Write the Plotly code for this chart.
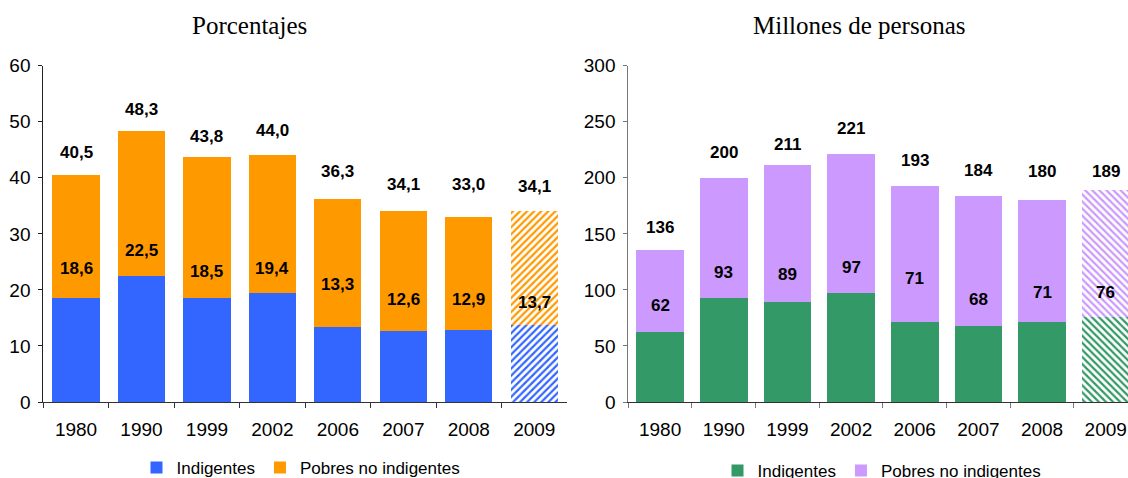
import plotly.graph_objects as go

# ---------------- data ----------------
years = ["1980", "1990", "1999", "2002", "2006", "2007", "2008", "2009"]
pct_total = [40.5, 48.3, 43.8, 44.0, 36.3, 34.1, 33.0, 34.1]
pct_indigentes = [18.6, 22.5, 18.5, 19.4, 13.3, 12.6, 12.9, 13.7]
mill_total = [136, 200, 211, 221, 193, 184, 180, 189]
mill_indigentes = [62, 93, 89, 97, 71, 68, 71, 76]
projected = [False, False, False, False, False, False, False, True]

pct_pobres = [round(t - i, 1) for t, i in zip(pct_total, pct_indigentes)]
mill_pobres = [t - i for t, i in zip(mill_total, mill_indigentes)]

# label placement (data units)
pct_top_label_y = [44.6, 52.1, 47.3, 48.4, 41.1, 38.75, 38.75, 38.4]
pct_inner_label_y = [23.75, 27.1, 23.2, 23.9, 20.9, 18.2, 18.2, 17.7]
mill_top_label_y = [155.4, 222.3, 229.5, 243.75, 215.2, 206.25, 205.4, 205.4]
mill_inner_label_y = [85.7, 115.2, 113.4, 119.6, 109.8, 91.1, 97.3, 97.3]

# ---------------- style ----------------
W, H = 1128, 478
BLUE, ORANGE = "#3366FF", "#FF9900"
GREEN, LILAC = "#339966", "#CC99FF"
SANS = "Liberation Sans, Arial, sans-serif"
SERIF = "Liberation Serif, Times New Roman, serif"


def px_x(p):
    return p / W


def px_y(p):
    return 1 - p / H


def pattern(color, shape):
    return dict(
        shape=[shape if p else "" for p in projected],
        fgcolor=color,
        bgcolor="white",
        size=5,
        solidity=0.45,
    )


fig = go.Figure()

fig.add_trace(go.Bar(
    x=years, y=pct_indigentes, name="Indigentes", xaxis="x", yaxis="y",
    marker=dict(color=BLUE, line=dict(width=0), pattern=pattern(BLUE, "/")),
    width=0.72, legend="legend", hoverinfo="x+y",
))
fig.add_trace(go.Bar(
    x=years, y=pct_pobres, name="Pobres no indigentes", xaxis="x", yaxis="y",
    marker=dict(color=ORANGE, line=dict(width=0), pattern=pattern(ORANGE, "/")),
    width=0.72, legend="legend", hoverinfo="x+y",
))
fig.add_trace(go.Bar(
    x=years, y=mill_indigentes, name="Indigentes", xaxis="x2", yaxis="y2",
    marker=dict(color=GREEN, line=dict(width=0), pattern=pattern(GREEN, "\\")),
    width=0.75, legend="legend2", hoverinfo="x+y",
))
fig.add_trace(go.Bar(
    x=years, y=mill_pobres, name="Pobres no indigentes", xaxis="x2", yaxis="y2",
    marker=dict(color=LILAC, line=dict(width=0), pattern=pattern(LILAC, "\\")),
    width=0.75, legend="legend2", hoverinfo="x+y",
))

annotations = []
lab_font = dict(family=SANS, size=17, color="black")
for i, yr in enumerate(years):
    annotations.append(dict(x=i, y=pct_top_label_y[i], xref="x", yref="y",
                            text=f"<b>{pct_total[i]:.1f}</b>".replace(".", ","),
                            showarrow=False, font=lab_font))
    annotations.append(dict(x=i, y=pct_inner_label_y[i], xref="x", yref="y",
                            text=f"<b>{pct_indigentes[i]:.1f}</b>".replace(".", ","),
                            showarrow=False, font=lab_font))
    annotations.append(dict(x=i, y=mill_top_label_y[i], xref="x2", yref="y2",
                            text=f"<b>{mill_total[i]}</b>",
                            showarrow=False, font=lab_font))
    annotations.append(dict(x=i, y=mill_inner_label_y[i], xref="x2", yref="y2",
                            text=f"<b>{mill_indigentes[i]}</b>",
                            showarrow=False, font=lab_font))

title_font = dict(family=SERIF, size=25, color="black")
annotations.append(dict(x=px_x(249), y=px_y(25), xref="paper", yref="paper",
                        text="Porcentajes", showarrow=False, font=title_font,
                        xanchor="center", yanchor="middle"))
annotations.append(dict(x=px_x(858.5), y=px_y(25), xref="paper", yref="paper",
                        text="Millones de personas", showarrow=False, font=title_font,
                        xanchor="center", yanchor="middle"))

tick_font = dict(family=SANS, size=19, color="black")
y_dom = [px_y(402), px_y(65.7)]

common_x = dict(type="category", showgrid=False, zeroline=False, showline=True,
                linewidth=1, ticks="outside", tickson="boundaries", ticklen=5,
                tickfont=tick_font, fixedrange=True, ticklabelstandoff=10,
                ticklabeloverflow="allow", automargin=False)
common_y = dict(showgrid=False, zeroline=False, showline=True, linewidth=1,
                ticks="outside", ticklen=4, tickfont=tick_font, fixedrange=True,
                ticklabelstandoff=4, automargin=False)

fig.update_layout(
    width=W, height=H,
    template="none",
    paper_bgcolor="white", plot_bgcolor="white",
    margin=dict(l=0, r=0, t=0, b=0, pad=0, autoexpand=False),
    barmode="stack", bargap=0.28,
    font=dict(family=SANS, color="black"),
    xaxis=dict(common_x, domain=[px_x(43.3), px_x(567)], range=[-0.5, 7.5],
               anchor="y", linecolor="#333333", tickcolor="#333333"),
    yaxis=dict(common_y, domain=y_dom, range=[0, 60], dtick=10, anchor="x",
               linecolor="#222222", tickcolor="#222222"),
    xaxis2=dict(common_x, domain=[px_x(628.3), 1.0], range=[-0.5, 7.35],
                anchor="y2", linecolor="#333333", tickcolor="#777777"),
    yaxis2=dict(common_y, domain=y_dom, range=[0, 300], dtick=50, anchor="x2",
                linecolor="#777777", tickcolor="#777777"),
    legend=dict(orientation="h", x=px_x(301), y=px_y(468), xanchor="center",
                yanchor="middle", font=dict(family=SANS, size=17, color="black"),
                bgcolor="rgba(0,0,0,0)", traceorder="normal", itemclick=False),
    legend2=dict(orientation="h", x=px_x(882), y=px_y(471), xanchor="center",
                 yanchor="middle", font=dict(family=SANS, size=17, color="black"),
                 bgcolor="rgba(0,0,0,0)", traceorder="normal", itemclick=False),
    annotations=annotations,
)

fig.write_html(
    "out.html",
    config={"displayModeBar": False},
    post_script="document.body.style.margin='0';document.body.style.overflow='hidden';",
)
